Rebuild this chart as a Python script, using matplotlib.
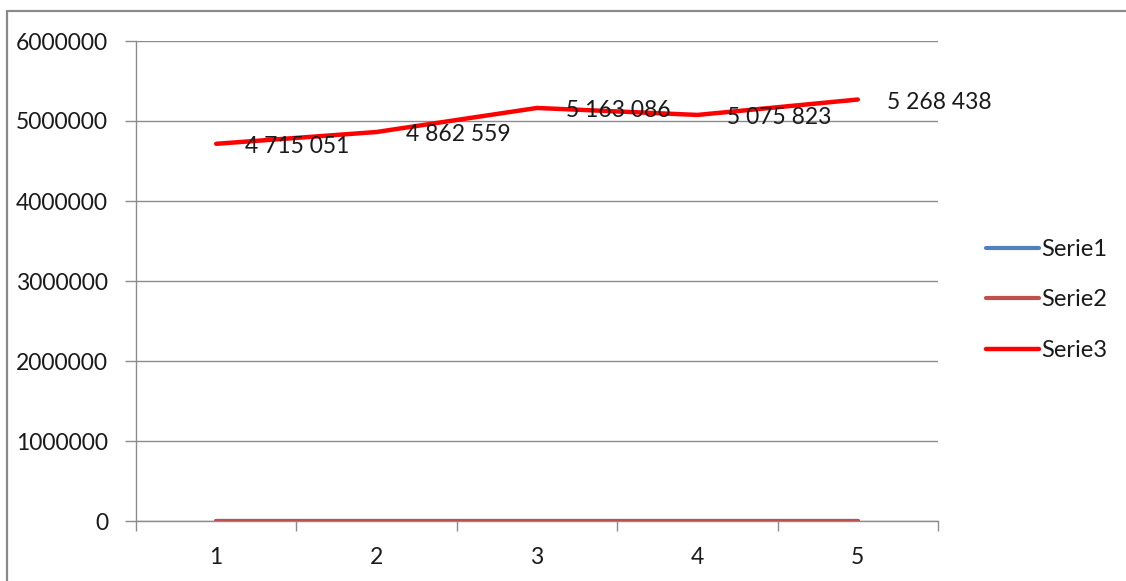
import matplotlib
matplotlib.use("Agg")
import matplotlib.pyplot as plt
from matplotlib.patches import Rectangle
from matplotlib.lines import Line2D
from matplotlib.ticker import FixedLocator, NullFormatter

# Data
categories = [1, 2, 3, 4, 5]
serie1 = [0, 0, 0, 0, 0]
serie2 = [0, 0, 0, 0, 0]
serie3 = [4715051, 4862559, 5163086, 5075823, 5268438]
series_names = ["Serie1", "Serie2", "Serie3"]
y_ticks = [0, 1000000, 2000000, 3000000, 4000000, 5000000, 6000000]

colors = ["#4F81BD", "#C0504D", "#FF0000"]
widths = [3.0, 3.0, 3.2]
grid_col = "#8C8C8C"

plt.rcParams["font.family"] = ["Lato", "DejaVu Sans"]

W, H = 1126, 581
fig = plt.figure(figsize=(W / 100, H / 100), dpi=100)
fig.patch.set_facecolor("white")

# outer chart frame
fig.add_artist(Rectangle((7 / W, -0.05), 1.2, 1.05 - 11 / H,
                         transform=fig.transFigure, fill=False,
                         edgecolor="#8A8A8A", linewidth=1.6))

ax = fig.add_axes([136 / W, 1 - 521 / H, (938 - 136) / W, (521 - 41) / H])

for vals, col, lw in zip([serie1, serie2, serie3], colors, widths):
    ax.plot(categories, vals, color=col, linewidth=lw, solid_capstyle="round",
            solid_joinstyle="round", zorder=3)

for x, v in zip(categories, serie3):
    label = f"{v:,}".replace(",", " ")
    ax.annotate(label, (x, v), xytext=(21, -2), textcoords="offset points",
                ha="left", va="center", fontsize=16.5, color="#1a1a1a", zorder=4)

ax.set_xlim(0.5, 5.5)
ax.set_ylim(0, 6000000)
ax.set_yticks(y_ticks)
ax.set_yticklabels([str(t) for t in y_ticks])
ax.set_xticks(categories)
ax.set_xticklabels([str(c) for c in categories])
ax.xaxis.set_minor_locator(FixedLocator([0.5, 1.5, 2.5, 3.5, 4.5, 5.5]))
ax.xaxis.set_minor_formatter(NullFormatter())

ax.tick_params(axis="x", which="major", length=0, pad=19, labelsize=16.5, labelcolor="#1a1a1a")
ax.tick_params(axis="x", which="minor", length=7, width=1, color=grid_col, direction="out")
ax.tick_params(axis="y", which="major", length=8, width=1, color=grid_col, pad=12,
               labelsize=16.5, labelcolor="#1a1a1a")

ax.grid(axis="y", color=grid_col, linewidth=1)
ax.set_axisbelow(True)
for s in ["top", "right"]:
    ax.spines[s].set_visible(False)
for s in ["left", "bottom"]:
    ax.spines[s].set_color(grid_col)
    ax.spines[s].set_linewidth(1)

# legend
handles = [Line2D([0], [0], color=c, linewidth=lw, solid_capstyle="round")
           for c, lw in zip(colors, widths)]
fig.legend(handles, series_names, loc="center left",
           bbox_to_anchor=(986 / W, 1 - 300 / H), frameon=False,
           fontsize=17, handlelength=2.25, handletextpad=0.1, labelspacing=1.25,
           borderaxespad=0, borderpad=0, labelcolor="#1a1a1a")

fig.savefig("out.png", dpi=100)
